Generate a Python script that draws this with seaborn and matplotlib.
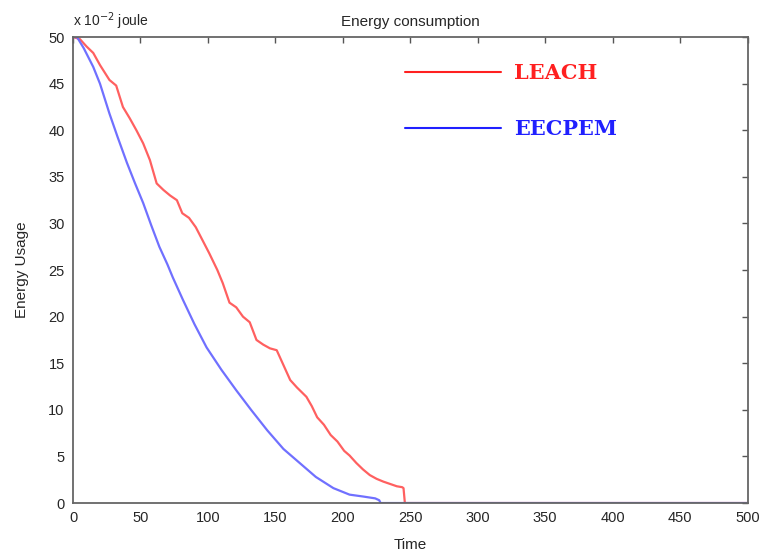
import matplotlib
matplotlib.use("Agg")
import matplotlib.pyplot as plt
import seaborn as sns
import pandas as pd

leach_t = [0, 5, 10, 15, 20, 27, 32, 37, 42, 47, 52, 57, 62, 67, 72, 77, 81, 86, 91, 96,
           101, 107, 111, 116, 121, 126, 131, 136, 141, 146, 151, 156, 161, 166, 173, 177,
           181, 186, 191, 196, 201, 205, 210, 215, 220, 225, 230, 236, 240, 244, 245, 246, 500]
leach_e = [50, 49.8, 49, 48.3, 47, 45.4, 44.8, 42.5, 41.3, 40, 38.6, 36.8, 34.3, 33.6, 33,
           32.5, 31.1, 30.6, 29.6, 28.2, 26.8, 25, 23.6, 21.5, 21, 20, 19.4, 17.5, 17, 16.6,
           16.4, 14.8, 13.2, 12.4, 11.4, 10.4, 9.2, 8.4, 7.3, 6.6, 5.6, 5.1, 4.3, 3.6, 3.0,
           2.6, 2.3, 2.0, 1.8, 1.7, 1.6, 0, 0]

eecpem_t = [0, 3, 8, 15, 20, 27, 33, 40, 46, 52, 58, 64, 70, 74, 81.5, 90, 99, 110, 121,
            132, 144, 156, 168, 180, 193, 205, 215, 224, 227, 228, 500]
eecpem_e = [50, 50, 48.8, 46.8, 45, 41.8, 39.3, 36.5, 34.3, 32.2, 29.8, 27.5, 25.6, 24.2,
            21.8, 19.2, 16.7, 14.3, 12.1, 10, 7.8, 5.8, 4.3, 2.8, 1.6, 0.9, 0.7, 0.5, 0.3, 0, 0]

x_ticks = list(range(0, 501, 50))
y_ticks = list(range(0, 51, 5))

sns.set_style("white")
plt.rcParams['font.family'] = ['Liberation Sans', 'DejaVu Sans']

df = pd.concat([
    pd.DataFrame({"Time": leach_t, "Energy": leach_e, "Protocol": "LEACH"}),
    pd.DataFrame({"Time": eecpem_t, "Energy": eecpem_e, "Protocol": "EECPEM"}),
])

fig = plt.figure(figsize=(7.63, 5.54), dpi=100)
ax = fig.add_axes([0.0957, 0.092, 0.884, 0.841])
sns.lineplot(data=df, x="Time", y="Energy", hue="Protocol",
             palette={"LEACH": "#ff6060", "EECPEM": "#7070ff"},
             linewidth=1.6, ax=ax, sort=False, estimator=None)

ax.set_xlim(0, 500)
ax.set_ylim(0, 50)
ax.set_xticks(x_ticks)
ax.set_yticks(y_ticks)
ax.tick_params(direction="in", length=4, top=True, right=True, labelsize=10.5,
               color="#555555", width=1, pad=6)
for s in ax.spines.values():
    s.set_color("#666666")
    s.set_linewidth(1.3)
ax.set_xlabel("Time", fontsize=11, labelpad=9)
ax.set_ylabel("Energy Usage", fontsize=11, labelpad=14)
ax.set_title("Energy consumption", fontsize=11, pad=8)
ax.text(0.0, 1.012, "x 10$^{-2}$ joule", transform=ax.transAxes, fontsize=10,
        ha="left", va="bottom")

leg = ax.legend(loc="upper left", bbox_to_anchor=(0.465, 0.985), frameon=False,
                handlelength=4.6, labelspacing=1.75, handletextpad=0.6,
                prop={"family": "DejaVu Serif", "weight": "bold", "size": 15})
for txt, c in zip(leg.get_texts(), ["#ff2020", "#2020ff"]):
    txt.set_color(c)
for line, c in zip(leg.get_lines(), ["#ff2020", "#2020ff"]):
    line.set_color(c)
    line.set_linewidth(1.5)

fig.savefig("out.png", dpi=100)
